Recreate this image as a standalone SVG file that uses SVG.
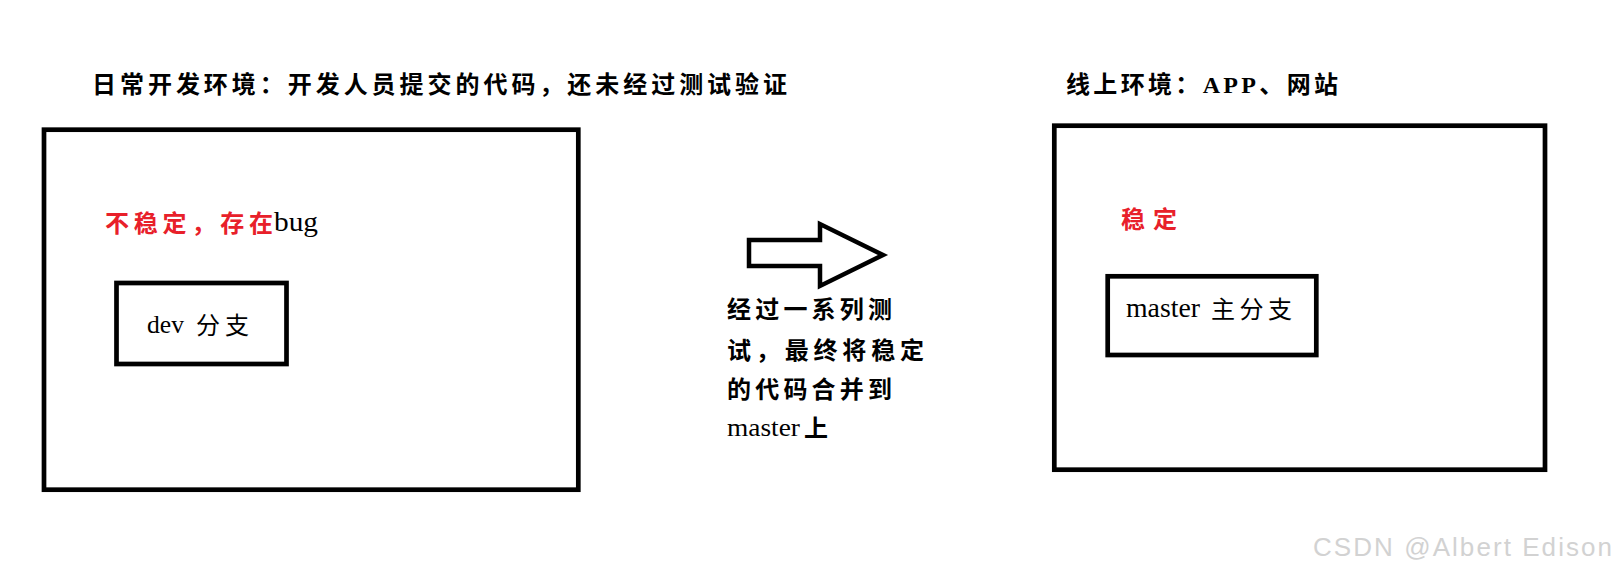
<svg xmlns="http://www.w3.org/2000/svg" width="1619" height="577" viewBox="0 0 1619 577">
<style>
.box{fill:none;stroke:#000;stroke-width:4.7}
.cjk{font-family:"Liberation Serif","Noto Sans CJK SC",serif;font-size:24px;fill:#000}
.b{font-weight:bold}
.red{fill:#e8202a}
.lat{font-family:"Liberation Serif",serif;fill:#000}
.wm{font-family:"Liberation Sans",sans-serif;font-size:26px;fill:#d2d2d2}
</style>
<rect width="1619" height="577" fill="#fff"/>
<g id="title-dev">
<text class="cjk b" x="92" y="93" textLength="695" lengthAdjust="spacing">日常开发环境：开发人员提交的代码，还未经过测试验证</text>
</g>
<g id="title-online">
<text class="cjk b" x="1066" y="93" textLength="272" lengthAdjust="spacing">线上环境：APP、网站</text>
</g>
<g id="dev-env">
<rect class="box" x="44" y="129.7" width="534.3" height="360"/>
<text class="cjk b red" x="105" y="232" textLength="168" lengthAdjust="spacing">不稳定，存在</text>
<text class="lat red" x="274" y="231" font-size="28" textLength="44" lengthAdjust="spacingAndGlyphs">bug</text>
</g>
<g id="dev-branch">
<rect class="box" x="116.5" y="283" width="170" height="81"/>
<text class="lat" x="147" y="333" font-size="26" textLength="37" lengthAdjust="spacingAndGlyphs">dev</text>
<text class="cjk" x="196" y="334" textLength="53" lengthAdjust="spacing">分支</text>
</g>
<g id="online-env">
<rect class="box" x="1054.3" y="125.7" width="490.7" height="344"/>
<text class="cjk b red" x="1121" y="228" textLength="56" lengthAdjust="spacing">稳定</text>
</g>
<g id="master-branch">
<rect class="box" x="1107.7" y="276.3" width="208.6" height="78.7"/>
<text class="lat" x="1126" y="317" font-size="27" textLength="74" lengthAdjust="spacingAndGlyphs">master</text>
<text class="cjk" x="1211" y="318" textLength="81" lengthAdjust="spacing">主分支</text>
</g>
<g id="connectors">
<polygon points="749,240 820,240 820,224 883,255 820,286 820,266 749,266" fill="#fff" stroke="#000" stroke-width="4.5" stroke-linejoin="miter"/>
</g>
<g id="merge-label">
<text class="cjk b" x="727" y="318" textLength="165" lengthAdjust="spacing">经过一系列测</text>
<text class="cjk b" x="727" y="359" textLength="197" lengthAdjust="spacing">试，最终将稳定</text>
<text class="cjk b" x="727" y="398" textLength="165" lengthAdjust="spacing">的代码合并到</text>
<text class="lat" x="727" y="436" font-size="26" textLength="73" lengthAdjust="spacingAndGlyphs">master</text>
<text class="cjk b" x="804" y="437">上</text>
</g>
<text class="wm" x="1313" y="556" textLength="299" lengthAdjust="spacing">CSDN @Albert Edison</text>
</svg>
